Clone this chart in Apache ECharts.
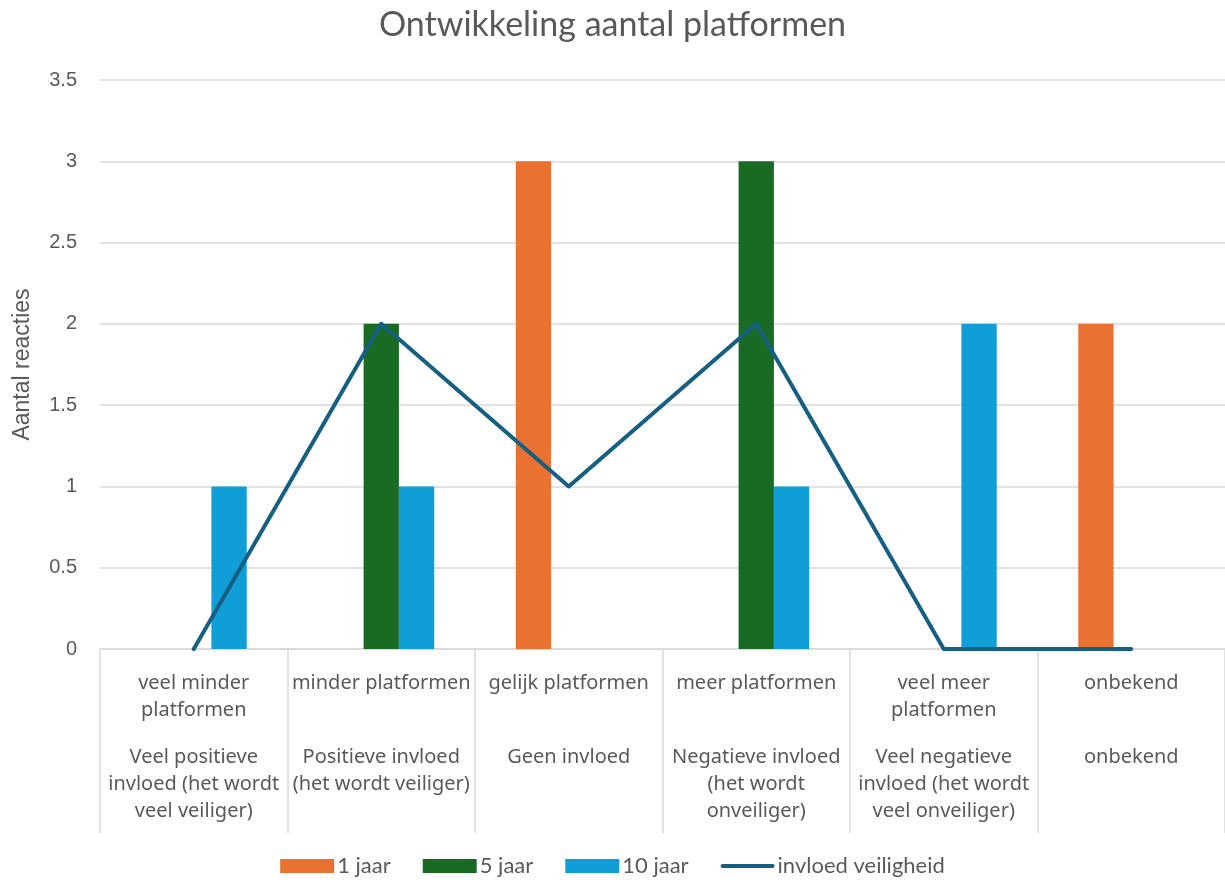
<!DOCTYPE html>
<html>
<head>
<meta charset="utf-8">
<script src="https://cdn.jsdelivr.net/npm/echarts@6/dist/echarts.min.js"></script>
<style>
  html, body { margin: 0; padding: 0; background: #ffffff; }
  #chart { width: 1225px; height: 885px; }
</style>
</head>
<body>
<div id="chart"></div>
<script>
// Outer category level: expected change in number of platforms
const platformLabels = [
  'veel minder\nplatformen',
  'minder platformen',
  'gelijk platformen',
  'meer platformen',
  'veel meer\nplatformen',
  'onbekend'
];
// Inner category level: effect on safety
const impactLabels = [
  'Veel positieve\ninvloed (het wordt\nveel veiliger)',
  'Positieve invloed\n(het wordt veiliger)',
  'Geen invloed',
  'Negatieve invloed\n(het wordt\nonveiliger)',
  'Veel negatieve\ninvloed (het wordt\nveel onveiliger)',
  'onbekend'
];

const seriesNames = ['1 jaar', '5 jaar', '10 jaar', 'invloed veiligheid'];
const oneYear   = [0, 0, 3, 0, 0, 2];
const fiveYear  = [0, 2, 0, 3, 0, 0];
const tenYear   = [1, 1, 0, 1, 2, 0];
const influence = [0, 2, 1, 2, 0, 0];

const yTicks = { min: 0, max: 3.5, step: 0.5 };

const textGray = '#595959';
const gridGray = '#d9d9d9';
const colors = ['#E97132', '#196B24', '#0F9ED5', '#156082'];

// Each axis label holds both category levels; the outer level is padded to two lines
// so the inner level always starts on the same row.
const axisKeys = platformLabels.map((p, i) => i + '|' + p + '|' + impactLabels[i]);
function buildLabel(key) {
  const parts = key.split('|');
  const top = parts[1].split('\n');
  while (top.length < 2) top.push(' ');
  const bottom = parts[2].split('\n');
  const lines = top.map(t => '{a|' + t + '}');
  lines.push('{s| }');
  bottom.forEach(t => lines.push('{a|' + t + '}'));
  return lines.join('\n');
}

// Legend glyph for the line series: a thick rounded stroke inside a 54x14 box
const lineIcon = 'path://M0,0L0.01,0Z M0,14L0.01,14Z M2,5L52,5A2,2 0 0 1 52,9L2,9A2,2 0 0 1 2,5Z';

const chart = echarts.init(document.getElementById('chart'), null, { renderer: 'canvas' });

chart.setOption({
  backgroundColor: '#ffffff',
  animation: false,
  title: {
    text: 'Ontwikkeling aantal platformen',
    left: 'center',
    top: 3,
    textStyle: { fontFamily: 'Lato, "Open Sans", sans-serif', fontSize: 34, fontWeight: 'normal', color: textGray }
  },
  legend: {
    bottom: 3,
    left: 'center',
    itemWidth: 54,
    itemHeight: 14,
    itemGap: 32,
    textStyle: { fontFamily: 'Lato, "Open Sans", sans-serif', fontSize: 22, color: textGray, padding: [0, 0, 0, -2] },
    data: [
      { name: seriesNames[0], icon: 'rect' },
      { name: seriesNames[1], icon: 'rect' },
      { name: seriesNames[2], icon: 'rect' },
      { name: seriesNames[3], icon: lineIcon }
    ]
  },
  grid: { left: 100, right: 0, top: 80, bottom: 236 },
  xAxis: {
    type: 'category',
    data: axisKeys,
    axisLine: { lineStyle: { color: gridGray, width: 1.5 } },
    axisTick: { show: true, interval: 0, length: 184, lineStyle: { color: gridGray, width: 1.5 } },
    axisLabel: {
      interval: 0,
      margin: 21,
      formatter: buildLabel,
      rich: {
        a: { fontFamily: '"Noto Sans", sans-serif', fontSize: 20, color: textGray, lineHeight: 27, align: 'center' },
        s: { fontSize: 10, lineHeight: 20, align: 'center' }
      }
    },
    splitLine: { show: false }
  },
  yAxis: {
    type: 'value',
    min: yTicks.min,
    max: yTicks.max,
    interval: yTicks.step,
    name: 'Aantal reacties',
    nameLocation: 'middle',
    nameGap: 66,
    nameTextStyle: { fontFamily: '"Liberation Sans", Arial, sans-serif', fontSize: 23, color: textGray },
    axisLine: { show: false },
    axisTick: { show: false },
    axisLabel: { margin: 23, fontFamily: '"Liberation Sans", Arial, sans-serif', fontSize: 20, color: textGray },
    splitLine: { lineStyle: { color: gridGray, width: 1.5 } }
  },
  series: [
    { name: seriesNames[0], type: 'bar', data: oneYear, itemStyle: { color: colors[0] }, barGap: '0%', barCategoryGap: '43.5%' },
    { name: seriesNames[1], type: 'bar', data: fiveYear, itemStyle: { color: colors[1] }, barGap: '0%', barCategoryGap: '43.5%' },
    { name: seriesNames[2], type: 'bar', data: tenYear, itemStyle: { color: colors[2] }, barGap: '0%', barCategoryGap: '43.5%' },
    {
      name: seriesNames[3], type: 'line', data: influence, symbol: 'none', z: 5,
      lineStyle: { color: colors[3], width: 4, cap: 'round', join: 'round' },
      itemStyle: { color: colors[3] }
    }
  ]
});
</script>
</body>
</html>
